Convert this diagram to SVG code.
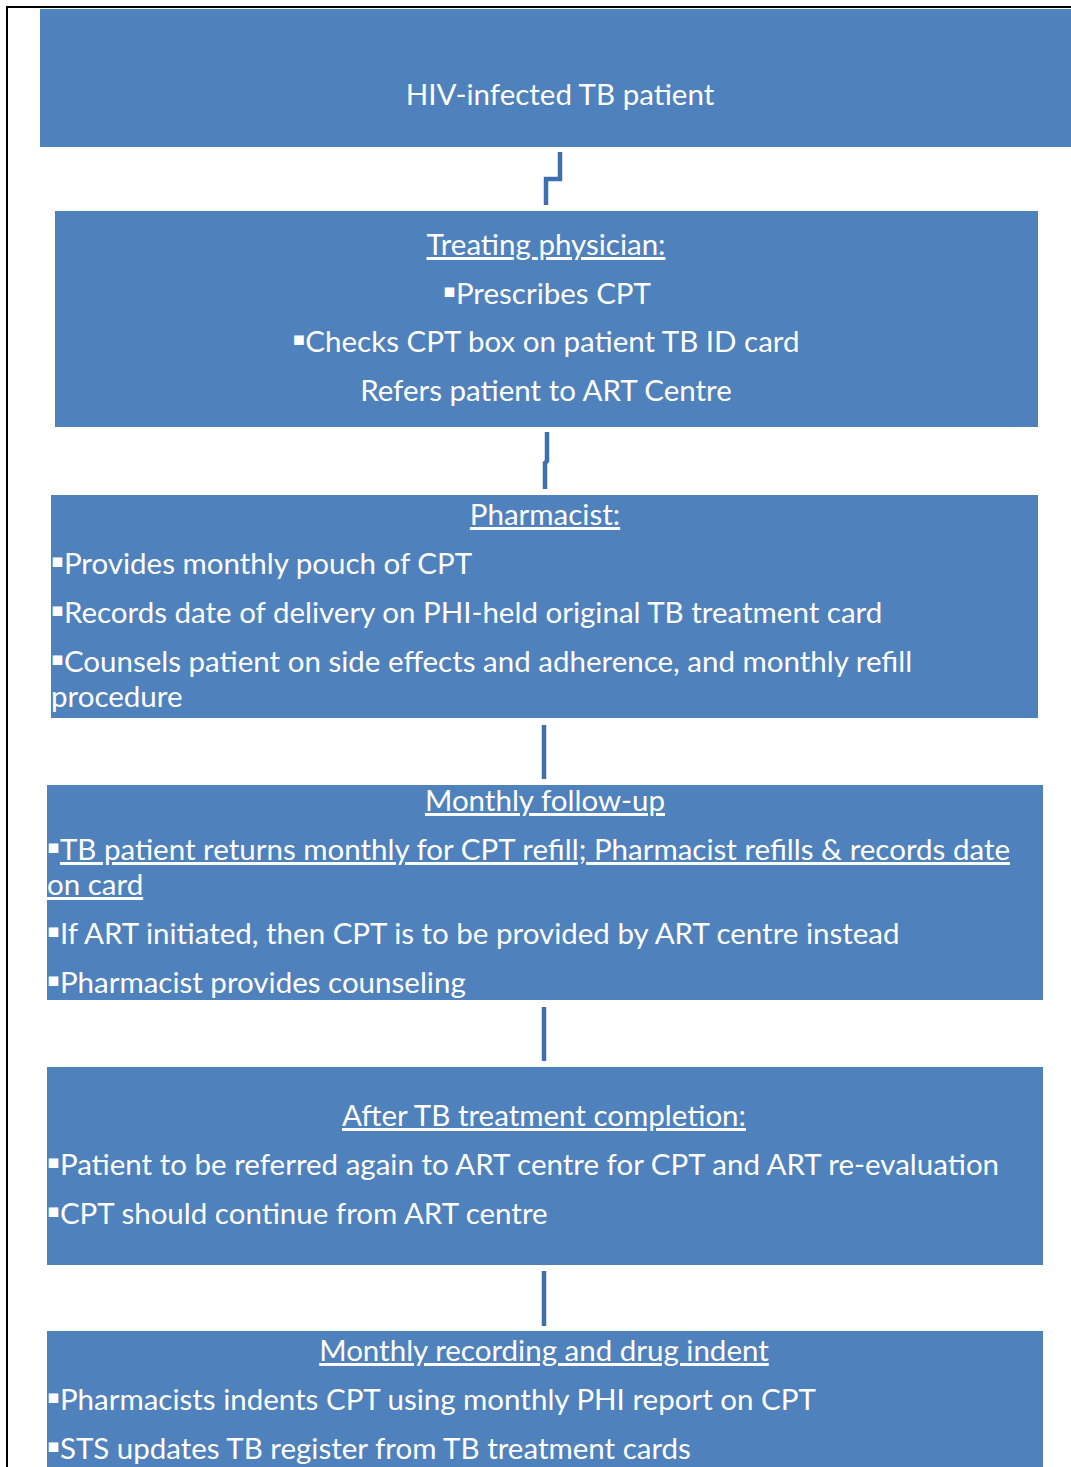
<svg xmlns="http://www.w3.org/2000/svg" width="1071" height="1467" viewBox="0 0 1071 1467">
  <style>
    .box { fill: #4F81BD; }
    .t { font-family: Lato, "Open Sans", "Liberation Sans", sans-serif; font-size: 29.5px; fill: #FFFFFF; }
    .c { text-anchor: middle; }
    .u { text-decoration: underline; }
    .b { font-family: "DejaVu Sans", sans-serif; font-size: 19px; baseline-shift: 7px; }
    .conn { fill: none; stroke: #3E70AD; stroke-width: 4.5; }
  </style>
  <rect width="1071" height="1467" fill="#FFFFFF"/>
  <!-- page frame -->
  <path d="M7,1467 V7 H1071" fill="none" stroke="#000000" stroke-width="2"/>

  <g id="connectors">
    <path class="conn" d="M560,152 V179 H546 V205"/>
    <path class="conn" d="M547,432 V461 L545,463 V489"/>
    <path class="conn" d="M544,725 V779"/>
    <path class="conn" d="M544,1007 V1061"/>
    <path class="conn" d="M544,1271 V1326"/>
  </g>

  <g id="patient">
    <rect class="box" x="40" y="9" width="1031" height="138"/>
    <text class="t c" x="560" y="105">HIV-infected TB patient</text>
  </g>

  <g id="physician">
    <rect class="box" x="55" y="211" width="983" height="216"/>
    <text class="t c u" x="546" y="255">Treating physician:</text>
    <text class="t c" x="547" y="304"><tspan class="b">▪</tspan>Prescribes CPT</text>
    <text class="t c" x="546" y="352"><tspan class="b">▪</tspan>Checks CPT box on patient TB ID card</text>
    <text class="t c" x="546" y="401">Refers patient to ART Centre</text>
  </g>

  <g id="pharmacist">
    <rect class="box" x="51" y="495" width="987" height="223"/>
    <text class="t c u" x="545" y="525">Pharmacist:</text>
    <text class="t" x="51" y="574"><tspan class="b">▪</tspan>Provides monthly pouch of CPT</text>
    <text class="t" x="51" y="623"><tspan class="b">▪</tspan>Records date of delivery on PHI-held original TB treatment card</text>
    <text class="t" x="51" y="672"><tspan class="b">▪</tspan>Counsels patient on side effects and adherence, and monthly refill</text>
    <text class="t" x="51" y="707">procedure</text>
  </g>

  <g id="follow-up">
    <rect class="box" x="47" y="785" width="996" height="215"/>
    <text class="t c u" x="545" y="811">Monthly follow-up</text>
    <text class="t" x="47" y="860"><tspan class="b">▪</tspan><tspan class="u">TB patient returns monthly for CPT refill; Pharmacist refills &amp; records date</tspan></text>
    <text class="t u" x="47" y="895">on card</text>
    <text class="t" x="47" y="944"><tspan class="b">▪</tspan>If ART initiated, then CPT is to be provided by ART centre instead</text>
    <text class="t" x="47" y="993"><tspan class="b">▪</tspan>Pharmacist provides counseling</text>
  </g>

  <g id="completion">
    <rect class="box" x="47" y="1067" width="996" height="198"/>
    <text class="t c u" x="544" y="1126">After TB treatment completion:</text>
    <text class="t" x="47" y="1175"><tspan class="b">▪</tspan>Patient to be referred again to ART centre for CPT and ART re-evaluation</text>
    <text class="t" x="47" y="1224"><tspan class="b">▪</tspan>CPT should continue from ART centre</text>
  </g>

  <g id="recording">
    <rect class="box" x="47" y="1331" width="996" height="140"/>
    <text class="t c u" x="544" y="1361">Monthly recording and drug indent</text>
    <text class="t" x="47" y="1410"><tspan class="b">▪</tspan>Pharmacists indents CPT using monthly PHI report on CPT</text>
    <text class="t" x="47" y="1459"><tspan class="b">▪</tspan>STS updates TB register from TB treatment cards</text>
  </g>
</svg>
